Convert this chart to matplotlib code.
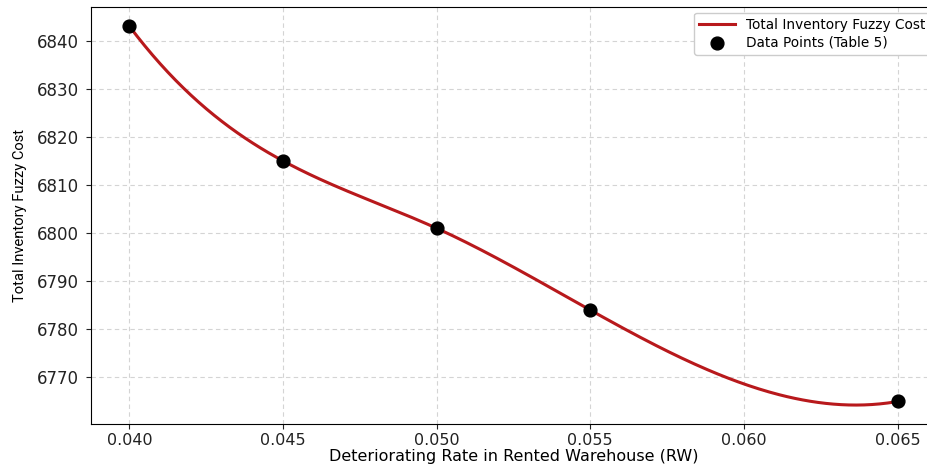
import numpy as np
import matplotlib
matplotlib.use("Agg")
import matplotlib.pyplot as plt

rate = [0.040, 0.045, 0.050, 0.055, 0.065]
cost = [6843, 6815, 6801, 6784, 6765]


def smooth(xs, ys, n=300):
    # not-a-knot cubic spline for 5 points: two cubics joined at the middle point
    x = np.array(xs, dtype=float)
    y = np.array(ys, dtype=float)
    xm = x[2]
    A = np.zeros((8, 8))
    b = np.zeros(8)
    r = 0
    for i in range(3):
        t = x[i] - xm
        A[r, 0:4] = [1, t, t**2, t**3]
        b[r] = y[i]
        r += 1
    for i in range(2, 5):
        t = x[i] - xm
        A[r, 4:8] = [1, t, t**2, t**3]
        b[r] = y[i]
        r += 1
    A[r, 1] = 1; A[r, 5] = -1; r += 1
    A[r, 2] = 2; A[r, 6] = -2
    c = np.linalg.solve(A, b)
    xx = np.linspace(x[0], x[-1], n)
    t = xx - xm
    left = c[0] + c[1]*t + c[2]*t**2 + c[3]*t**3
    right = c[4] + c[5]*t + c[6]*t**2 + c[7]*t**3
    return xx, np.where(t <= 0, left, right)


plt.rcParams['font.family'] = ['DejaVu Sans']

fig = plt.figure(figsize=(9.28, 4.72), dpi=100)
ax = fig.add_axes([0.098, 0.1017, 0.9106, 0.883])

xs, ys = smooth(rate, cost)
ax.plot(xs, ys, color='#b8191c', linewidth=2.2, label='Total Inventory Fuzzy Cost', zorder=2)
ax.scatter(rate, cost, color='black', s=85, label='Data Points (Table 5)', zorder=3)

ax.set_xticks([0.040, 0.045, 0.050, 0.055, 0.060, 0.065])
ax.xaxis.set_major_formatter(matplotlib.ticker.FormatStrFormatter('%.3f'))
ax.tick_params(labelsize=12, colors='#222222')
ax.tick_params(axis='x', labelsize=11.5, pad=3)
ax.tick_params(axis='y', pad=5)
ax.spines['right'].set_visible(False)
ax.grid(True, linestyle=(0, (4, 3)), color='#d4d4d4', linewidth=0.8)
ax.set_xlabel('Deteriorating Rate in Rented Warehouse (RW)', fontsize=11.5, labelpad=1)
ax.set_ylabel('Total Inventory Fuzzy Cost', fontsize=10.6, labelpad=7,
              family=['Roboto', 'DejaVu Sans'])
ax.legend(loc='upper right', fontsize=9.8, framealpha=1, labelspacing=0.25,
          handlelength=2.6, borderaxespad=0.4, edgecolor='#cccccc')

fig.savefig('out.png', dpi=100)
